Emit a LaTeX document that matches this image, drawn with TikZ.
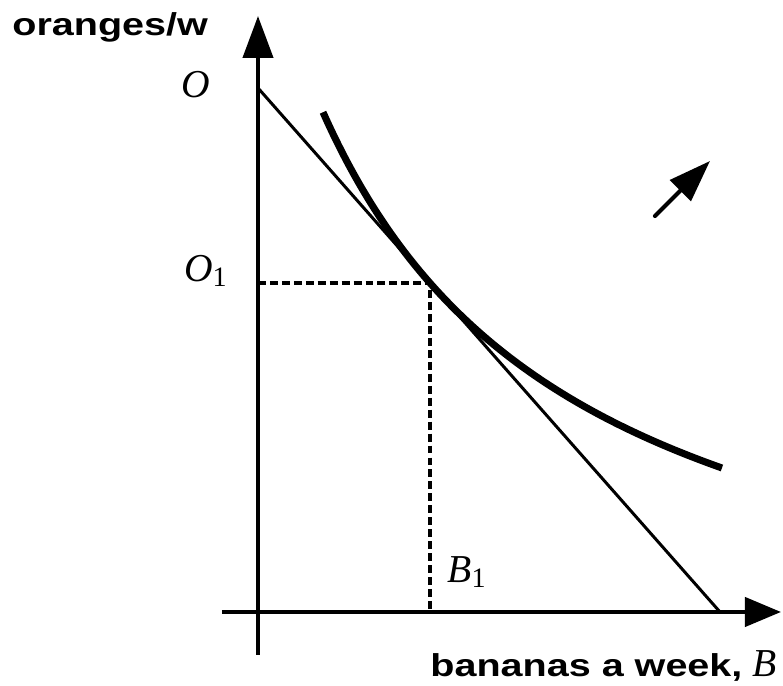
\documentclass[tikz,border=0pt]{standalone}
\usepackage{fontspec}
\usepackage{graphicx}
\setmainfont{Liberation Serif}
\setsansfont{Liberation Sans}
\usetikzlibrary{arrows.meta}
\newcommand{\axtext}[1]{\scalebox{1.25}[1]{\fontsize{18}{21}\selectfont\sffamily\bfseries #1}}
\newcommand{\sub}[1]{\raisebox{-0.12em}{\upshape\fontsize{16}{18}\selectfont #1}}

\begin{document}
\begin{tikzpicture}[
    ax/.style={line width=2.4pt},
    bl/.style={line width=1.7pt},
    ic/.style={line width=4pt},
    dl/.style={line width=2pt,dash pattern=on 4.5pt off 2.3pt},
    lb/.style={inner sep=0pt,font=\fontsize{22.5}{26}\selectfont\itshape}]
  \useasboundingbox (-5.16,-1.48) rectangle (10.5,12.24);
  % axes
  \coordinate (yb) at (0,-0.86);
  \coordinate (yt) at (0,11.92);
  \coordinate (xl) at (-0.72,0);
  \coordinate (xr) at (10.46,0);
  \draw[ax,-{Triangle[length=0.84cm,width=0.6cm]}] (yb) -- (yt);
  \draw[ax,-{Triangle[length=0.72cm,width=0.58cm]}] (xl) -- (xr);
  % budget line and optimum
  \coordinate (bo) at (0,10.48);
  \coordinate (bb) at (9.24,0);
  \coordinate (e) at (3.44,6.58);
  \coordinate (eo) at (0,6.58);
  \coordinate (eb) at (3.44,0);
  \draw[bl] (bo) -- (bb);
  \draw[dl] (eo) -- (e) -- (eb);
  % indifference curve
  \draw[ic] plot[domain=1.3:9.28,samples=80,smooth] (\x,{-1.804+61.98/(\x+3.953)});
  % direction of preference
  \coordinate (p1) at (7.94,7.92);
  \coordinate (p2) at (9.04,9.02);
  \draw[ax,line cap=round,-{Triangle[length=0.84cm,width=0.58cm]}] (p1) -- (p2);
  % labels
  \node[inner sep=0pt,anchor=base west] (ylab) at (-4.92,11.52) {\axtext{oranges/w}};
  \node[inner sep=0pt,anchor=base east] (xlab) at (10.38,-1.3) {\axtext{bananas a week,}\hspace{0.2cm}\textit{\fontsize{22.5}{26}\selectfont B}};
  \node[lb,anchor=base east] (lo) at (-0.96,10.28) {O};
  \node[lb,anchor=base east] (lo1) at (-0.62,6.6) {O\sub{1}};
  \node[lb,anchor=base west] (lb1) at (3.78,0.58) {B\sub{1}};
\end{tikzpicture}
\end{document}
